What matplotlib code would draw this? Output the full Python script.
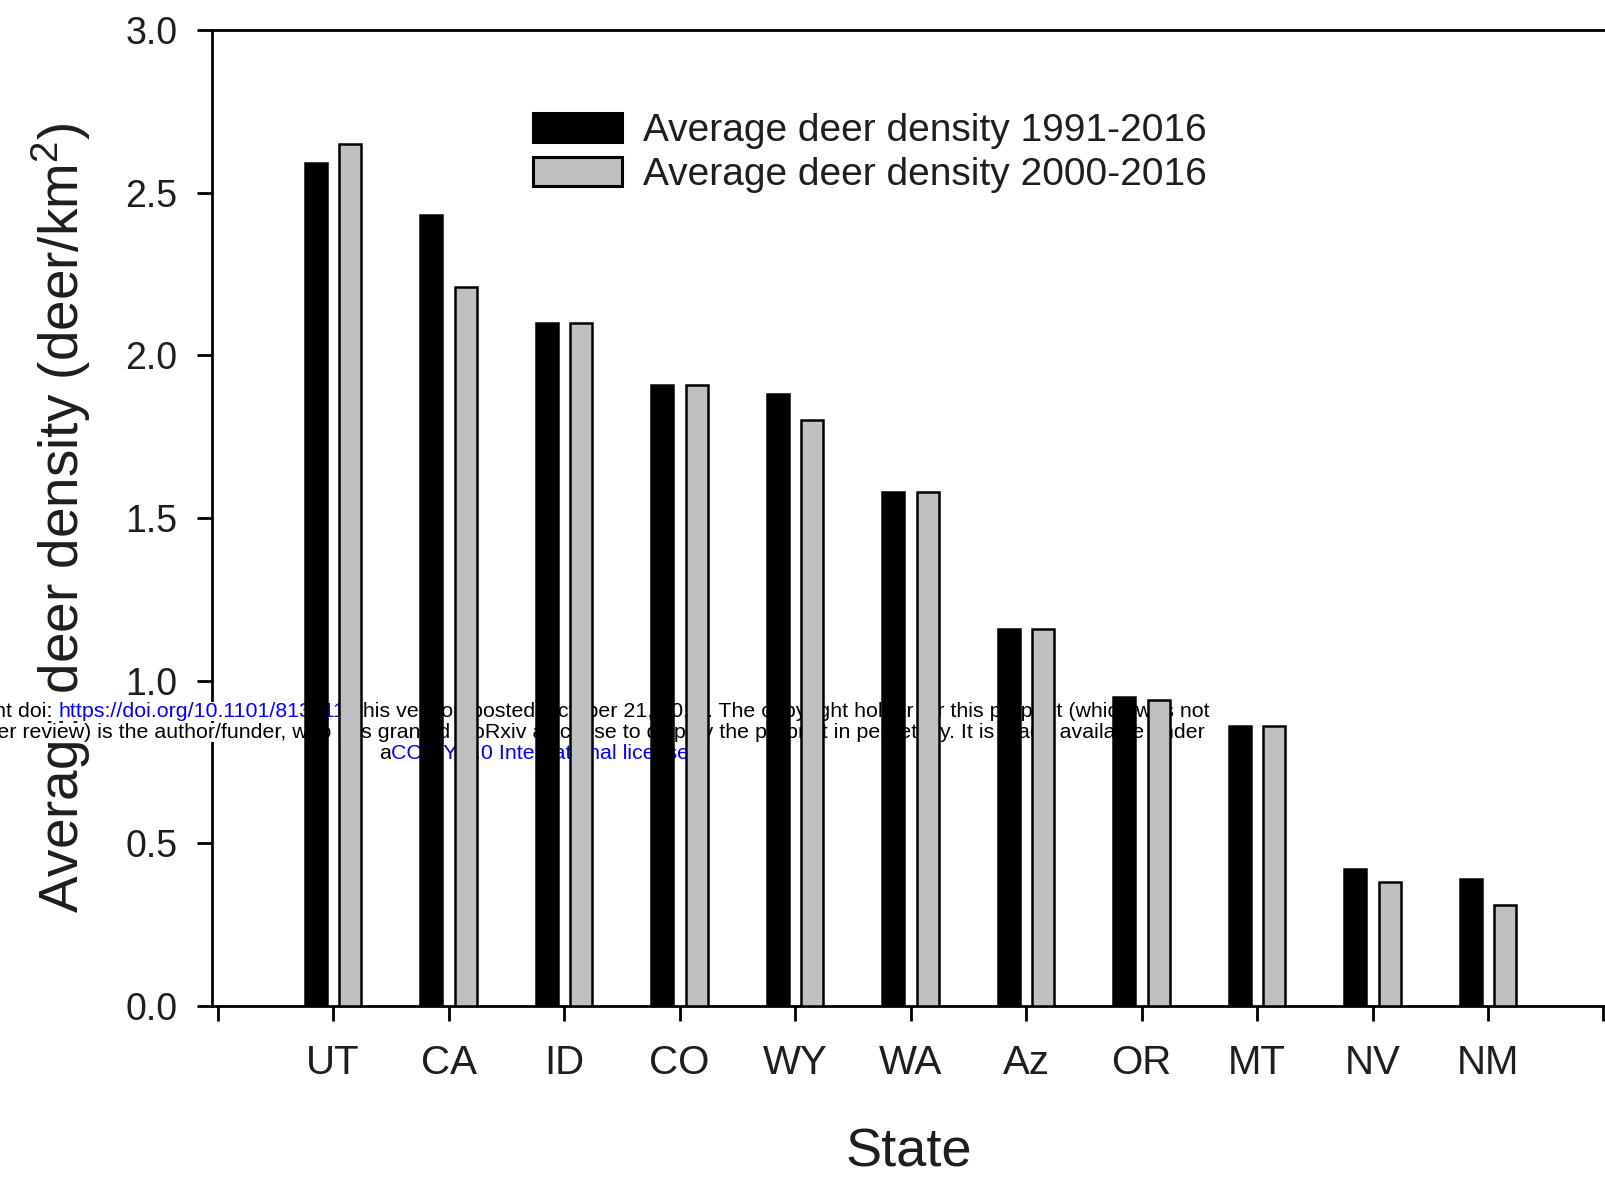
import matplotlib
matplotlib.use("Agg")
import matplotlib.pyplot as plt
import numpy as np

# ---- data ----
states = ["UT", "CA", "ID", "CO", "WY", "WA", "Az", "OR", "MT", "NV", "NM"]
density_1991_2016 = [2.59, 2.43, 2.10, 1.91, 1.88, 1.58, 1.16, 0.95, 0.86, 0.42, 0.39]
density_2000_2016 = [2.65, 2.21, 2.10, 1.91, 1.80, 1.58, 1.16, 0.94, 0.86, 0.38, 0.31]
series_labels = ["Average deer density 1991-2016", "Average deer density 2000-2016"]
yticks = [0.0, 0.5, 1.0, 1.5, 2.0, 2.5, 3.0]

plt.rcParams['font.family'] = ['Liberation Sans', 'DejaVu Sans']
plt.rcParams['mathtext.fontset'] = 'custom'
plt.rcParams['mathtext.rm'] = 'Liberation Sans'
plt.rcParams['mathtext.it'] = 'Liberation Sans'
plt.rcParams['mathtext.default'] = 'regular'

W, H = 1605, 1177
fig = plt.figure(figsize=(W / 100, H / 100), dpi=100)
fig.patch.set_facecolor('white')
ax = fig.add_axes([212 / W, (H - 1006) / H, (W - 212) / W, (1006 - 30) / H])
ax.patch.set_visible(False)

txtc = '#1e1e1e'
x = np.arange(1, len(states) + 1)
bw = 0.19
ax.bar(x - 0.15, density_1991_2016, width=bw, color='black', edgecolor='black',
       linewidth=1.8, zorder=1, label=series_labels[0])
ax.bar(x + 0.15, density_2000_2016, width=bw, color='#c0c0c0', edgecolor='black',
       linewidth=1.8, zorder=1, label=series_labels[1])

ax.set_xlim(-0.048, 12.013)
ax.set_ylim(0, 3.0)
ax.set_xticks(np.arange(0, len(states) + 2))
ax.set_xticklabels([''] + states + [''])
ax.set_yticks(yticks)
ax.set_yticklabels([f"{v:.1f}" for v in yticks])

for s in ['left', 'bottom', 'top']:
    ax.spines[s].set_linewidth(2.0)
    ax.spines[s].set_zorder(0.5)
ax.spines['right'].set_visible(False)
ax.xaxis.set_zorder(0.5)
ax.yaxis.set_zorder(0.5)

ax.tick_params(axis='both', direction='out', width=2.0, length=11, colors='black',
               labelcolor=txtc)
ax.tick_params(axis='y', labelsize=27, pad=14)
ax.tick_params(axis='x', labelsize=29, pad=16)

ax.set_ylabel("Average deer density (deer/km$^{2}$)", fontsize=39.5, color=txtc, va='center')
ax.yaxis.set_label_coords(-0.108, 0.5)
ax.set_xlabel("State", fontsize=39, color=txtc, va='center')
ax.xaxis.set_label_coords(0.5004, -0.1506)

leg = ax.legend(loc='upper left', bbox_to_anchor=(533 / W, 1 - 113 / H),
                bbox_transform=fig.transFigure, frameon=False, fontsize=28,
                handlelength=2.3, handleheight=0.78, handletextpad=0.52,
                labelspacing=0.2, borderpad=0, borderaxespad=0)
for t in leg.get_texts():
    t.set_color(txtc)
for p in leg.get_patches():
    p.set_linewidth(2.2)

# ---- bioRxiv watermark (behind bars, over spine) ----
wfs = 15.4
bg = dict(facecolor='white', edgecolor='none', pad=0)
blue = '#0000ff'
tf = fig.transFigure

def fy(ypx):
    return 1 - ypx / H

link = ax.text(58 / W, fy(717), "https://doi.org/10.1101/813311", transform=tf,
               fontsize=wfs, color=blue, ha='left', va='baseline', bbox=bg,
               zorder=0.7, clip_on=False)
ax.annotate("bioRxiv preprint doi: ", xy=(0, 0), xycoords=link, ha='right', va='bottom',
            fontsize=wfs, color='black', bbox=bg, zorder=0.7, annotation_clip=False)
ax.annotate("; this version posted October 21, 2019. The copyright holder for this preprint (which was not",
            xy=(1, 0), xycoords=link, ha='left', va='bottom', fontsize=wfs,
            color='black', bbox=bg, zorder=0.7, annotation_clip=False)

ax.text(1205 / W, fy(738),
        "certified by peer review) is the author/funder, who has granted bioRxiv a license to display the preprint in perpetuity. It is made available under",
        transform=tf, fontsize=wfs, color='black', ha='right', va='baseline', bbox=bg,
        zorder=0.7, clip_on=False)

a_t = ax.text(379 / W, fy(759), "a", transform=tf, fontsize=wfs, color='black',
              ha='left', va='baseline', bbox=bg, zorder=0.7, clip_on=False)
cc = ax.annotate("CC-BY 4.0 International license", xy=(1, 0), xycoords=a_t, ha='left',
                 va='bottom', fontsize=wfs, color=blue, bbox=bg, zorder=0.7,
                 annotation_clip=False)
ax.annotate(".", xy=(1, 0), xycoords=cc, ha='left', va='bottom', fontsize=wfs,
            color='black', bbox=bg, zorder=0.7, annotation_clip=False)

fig.savefig("out.png", dpi=100, facecolor='white')
